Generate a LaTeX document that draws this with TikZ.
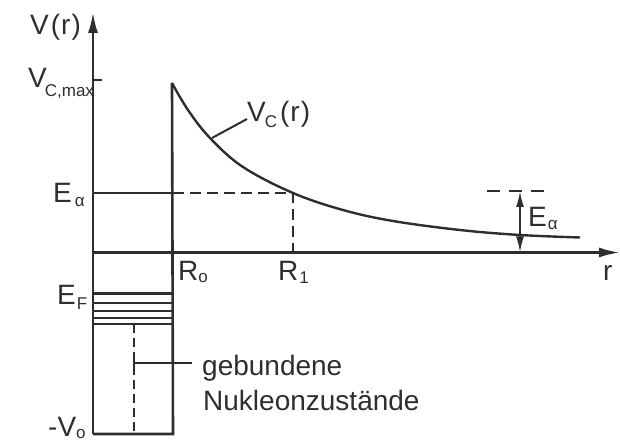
\documentclass[tikz,border=0pt]{standalone}
\usepackage{fontspec}
\setmainfont{Liberation Sans}
\usetikzlibrary{arrows.meta}
\definecolor{ink}{HTML}{2E2E2E}
\newcommand{\lowsub}[2]{\raisebox{-#1}{\fontsize{17}{17}\selectfont #2}}
\begin{document}
\begin{tikzpicture}[x=1pt,y=-1pt, color=ink,
  axisline/.style={line width=2.7pt, -{Latex[length=21pt,width=10pt]}},
  wall/.style={line width=2.6pt, line join=miter},
  lvl/.style={line width=2pt},
  curve/.style={line width=2.4pt},
  dsh/.style={line width=2pt, dash pattern=on 11pt off 6pt},
  dimarrow/.style={line width=2pt, {Latex[length=16pt,width=8pt]}-{Latex[length=16pt,width=8pt]}},
  lbl/.style={font=\fontsize{28}{30}\selectfont, text=ink, inner sep=0pt, anchor=base west}]
\path[use as bounding box] (0,0) rectangle (620,443);

% coordinates
\coordinate (o) at (93,252.5);
\coordinate (ytip) at (93,12);
\coordinate (xtip) at (620,252.5);
\coordinate (wbl) at (93,434);
\coordinate (wbr) at (173,434);
\coordinate (peak) at (172,83);
\coordinate (ea0) at (93,193);
\coordinate (ea1) at (173,193);
\coordinate (r1top) at (293,193);
\coordinate (r1bot) at (293,252.5);

% axes
\draw[axisline] (wbl) -- (ytip);
\draw[axisline] (o) -- (xtip);
% tick Vc,max
\coordinate (tick0) at (93,80);
\coordinate (tick1) at (102,80);
\draw[lvl] (tick0) -- (tick1);

% well
\draw[wall] (wbl) -- (wbr) -- (peak);
% Coulomb curve
\draw[curve] plot[smooth, tension=0.6] coordinates {(172,83) (188,110) (210,138) (243,167) (293,193) (343,210) (393,221) (460,230) (520,235) (580,237.5)};

% E_alpha level
\draw[lvl] (ea0) -- (ea1);
\draw[dsh] (ea1) -- (r1top) -- (r1bot);

% bound levels
\foreach \yy/\w in {293.5/2.4, 302.7/1.8, 311/1.8, 317.7/1.8, 324.3/1.8}
  \draw[line width=\w pt] (93,\yy) -- (173,\yy);

% dashed line in well and leader
\coordinate (dtop) at (134,324.3);
\coordinate (dbot) at (134,434);
\draw[line width=2pt, dash pattern=on 9pt off 5pt] (dtop) -- (dbot);
\coordinate (lead0) at (134,363);
\coordinate (lead1) at (192,363);
\draw[lvl] (lead0) -- (lead1);
\draw[lvl] (134,358) -- (134,368);

% E_alpha on the right
\coordinate (dimtop) at (520,191);
\coordinate (dimbot) at (520,252.5);
\draw[dsh, dash pattern=on 13pt off 9pt] (487,191) -- (549,191);
\draw[dimarrow] (dimbot) -- (dimtop);

% V_C(r) leader
\coordinate (vc0) at (212,138);
\coordinate (vc1) at (247,119);
\draw[lvl] (vc0) -- (vc1);

% labels
\node[lbl] (lvr) at (30,35) {V\kern2pt(\kern1pt r\kern1pt)};
\node[lbl] (lvcmax) at (28,88) {V\kern-2pt\lowsub{9pt}{C,max}};
\node[lbl] (lea) at (53,203) {E\kern3pt\lowsub{4pt}{α}};
\node[lbl] (lef) at (57,304) {E\kern1pt\lowsub{5pt}{F}};
\node[lbl] (lr0) at (178,280) {R\lowsub{2pt}{o}};
\node[lbl] (lr1) at (278,280) {R\kern1pt\lowsub{3pt}{1}};
\node[lbl] (lr) at (603,280) {r};
\node[lbl] (lvc) at (247,122) {V\kern-1pt\lowsub{6pt}{C}\kern3pt(\kern1pt r\kern1pt)};
\node[lbl] (lea2) at (528,227) {E\kern1pt\lowsub{3pt}{α}};
\node[lbl] (lgeb) at (202,375) {gebundene};
\node[lbl] (lnuk) at (203,410) {Nukleonzustände};
\node[lbl] (lv0) at (48,436) {-V\lowsub{2pt}{o}};
\end{tikzpicture}
\end{document}
